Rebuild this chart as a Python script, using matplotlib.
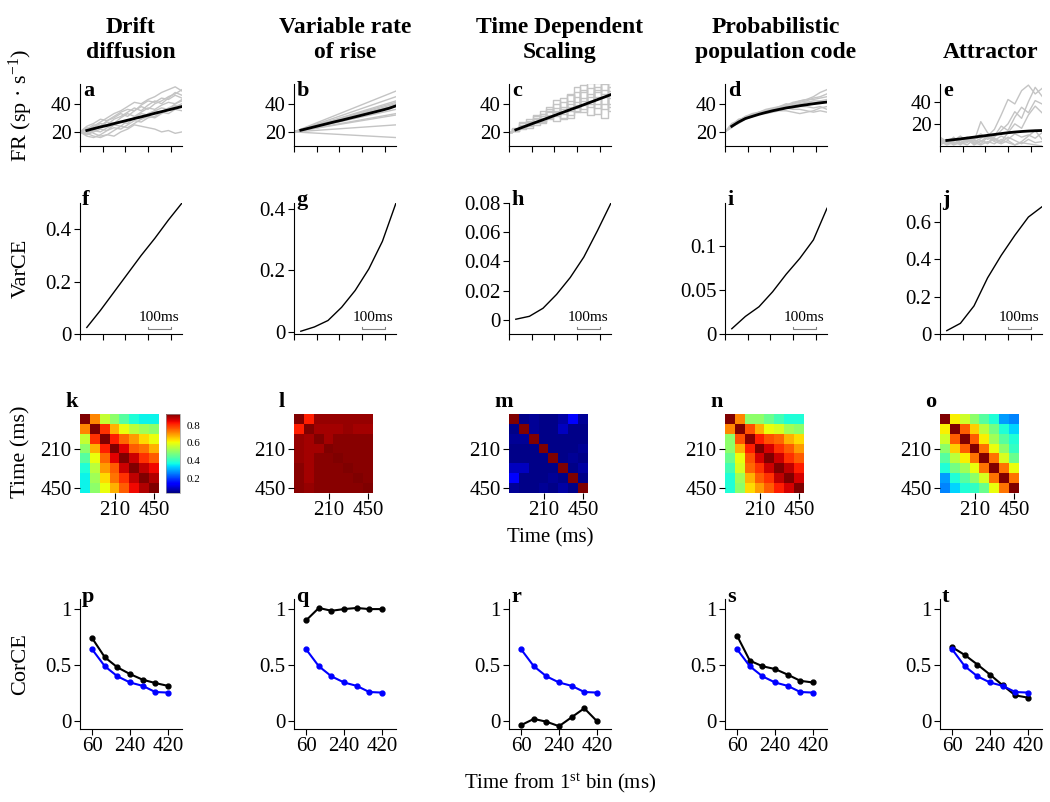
#%% Import modules
import numpy as np
import matplotlib
matplotlib.use("Agg")
import matplotlib.pyplot as plt
from matplotlib import transforms

#%% Fonts
plt.rcParams['font.family'] = ['Liberation Serif', 'DejaVu Serif']
plt.rcParams['mathtext.fontset'] = 'custom'
plt.rcParams['mathtext.rm'] = 'Liberation Serif'
plt.rcParams['mathtext.it'] = 'Liberation Serif:italic'
plt.rcParams['mathtext.bf'] = 'Liberation Serif:bold'

#%% Data
titles = ["Drift\ndiffusion", "Variable rate\nof rise", "Time Dependent\nScaling",
          "Probabilistic\npopulation code", "Attractor"]

# row 1: firing rate traces (t = 0..450 ms, 30 ms steps)
t_fr = [0, 30, 60, 90, 120, 150, 180, 210, 240, 270, 300, 330, 360, 390, 420, 450]
t_mean = t_fr[1:]

fr_a = [
    [20, 22, 25, 24, 28, 30, 33, 31, 35, 38, 36, 40, 42, 45, 47, 50],
    [20, 19, 23, 26, 25, 29, 31, 34, 37, 35, 39, 42, 40, 44, 48, 46],
    [20, 23, 21, 24, 27, 26, 30, 33, 31, 34, 37, 36, 39, 41, 40, 43],
    [20, 18, 20, 22, 21, 25, 27, 26, 30, 29, 33, 35, 34, 37, 39, 38],
    [20, 21, 24, 27, 30, 33, 35, 38, 41, 40, 43, 45, 48, 50, 52, 49],
    [20, 17, 16, 18, 21, 23, 22, 25, 28, 27, 30, 31, 34, 33, 36, 35],
    [20, 22, 19, 17, 18, 21, 24, 23, 26, 29, 31, 30, 33, 36, 38, 40],
    [20, 19, 17, 16, 18, 17, 20, 22, 25, 24, 23, 22, 20, 21, 19, 20],
    [20, 24, 26, 29, 28, 31, 34, 36, 35, 39, 42, 41, 44, 43, 46, 44],
    [20, 18, 21, 20, 23, 25, 24, 28, 30, 33, 32, 35, 37, 36, 40, 42],
]
mean_a = [21, 22.3, 23.5, 24.6, 25.9, 27.1, 28.3, 29.5, 30.7, 31.9, 33.2, 34.4, 35.6, 36.8, 38]

# variable rate of rise: straight lines from 20 sp/s at t=0
rise_end_b = [49, 45, 42, 41, 40, 39, 36, 33, 32, 25, 16]
mean_b = [21.2, 22.4, 23.6, 24.8, 26.0, 27.2, 28.3, 29.5, 30.7, 31.9, 33.1, 34.3, 35.5, 36.8, 38.5]

fr_c = [
    [20, 22, 26, 24, 30, 27, 35, 31, 38, 46, 34, 50, 42, 55, 47, 40],
    [20, 21, 24, 28, 25, 33, 29, 37, 30, 35, 48, 39, 55, 45, 36, 52],
    [20, 23, 22, 27, 31, 26, 34, 40, 33, 42, 37, 53, 38, 48, 55, 44],
    [20, 22, 25, 23, 28, 35, 31, 28, 44, 32, 45, 36, 47, 33, 50, 38],
    [20, 21, 23, 29, 26, 30, 38, 34, 36, 47, 41, 44, 32, 52, 40, 55],
    [20, 22, 27, 25, 32, 28, 32, 43, 35, 38, 52, 34, 45, 40, 30, 47],
    [20, 21, 24, 26, 27, 33, 30, 35, 41, 30, 39, 48, 51, 37, 45, 35],
    [20, 22, 23, 25, 29, 31, 36, 33, 29, 40, 35, 42, 40, 50, 54, 49],
]
mean_c = [21.5, 23.3, 25.1, 26.9, 28.6, 30.4, 32.2, 34.0, 35.8, 37.5, 39.3, 41.1, 42.9, 44.7, 46.5]

fr_d = [
    [20, 25, 28, 30, 32, 33, 35, 36, 37, 38, 40, 41, 42, 44, 45, 47],
    [20, 24, 27, 30, 31, 33, 34, 36, 37, 39, 40, 42, 43, 45, 48, 50],
    [20, 26, 28, 31, 32, 34, 35, 35, 36, 37, 36, 36, 35, 34, 35, 34],
    [20, 25, 29, 30, 31, 33, 35, 36, 36, 37, 37, 38, 38, 37, 38, 36],
    [20, 24, 26, 29, 31, 33, 34, 36, 38, 39, 41, 42, 43, 43, 44, 45],
    [20, 25, 28, 31, 33, 34, 35, 36, 37, 38, 38, 39, 41, 42, 42, 43],
    [20, 23, 27, 29, 31, 33, 33, 34, 35, 35, 34, 33, 34, 35, 37, 38],
    [20, 25, 28, 30, 32, 34, 36, 37, 38, 40, 39, 40, 41, 40, 42, 41],
]
mean_d = [24, 27, 29.5, 31, 32.5, 33.8, 35, 36, 37, 37.8, 38.6, 39.3, 40, 40.6, 41.2]

fr_e = [
    [5, 2, 8, 3, 6, 1, 4, 9, 15, 28, 42, 38, 50, 55, 47, 52],
    [3, 6, 2, 5, 8, 4, 22, 12, 6, 3, 8, 5, 2, 6, 3, 4],
    [8, 4, 1, 3, 7, 2, 5, 3, 8, 14, 20, 31, 25, 40, 53, 45],
    [2, 5, 7, 3, 1, 6, 2, 8, 4, 2, 5, 1, 3, 2, 1, 0],
    [6, 3, 5, 9, 4, 7, 11, 6, 9, 18, 14, 26, 35, 30, 41, 38],
    [4, 1, 3, 2, 5, 3, 1, 4, 2, 6, 3, 1, 4, 9, 14, 6],
    [1, 4, 6, 2, 3, 8, 5, 2, 7, 4, 12, 20, 16, 28, 36, 30],
    [7, 2, 4, 1, 6, 3, 7, 10, 5, 9, 6, 11, 8, 10, 7, 12],
]
mean_e = [5, 5.7, 6.4, 7.2, 8, 8.8, 9.6, 10.4, 11.2, 12, 12.6, 13.1, 13.5, 13.8, 14]

# row 2: VarCE
t_var = [30, 90, 150, 210, 270, 330, 390, 450]
var_f = [0.025, 0.09, 0.16, 0.23, 0.3, 0.365, 0.435, 0.5]
var_g = [0.002, 0.016, 0.037, 0.08, 0.135, 0.205, 0.295, 0.42]
var_h = [0.0005, 0.0025, 0.008, 0.0175, 0.029, 0.043, 0.061, 0.08]
var_i = [0.006, 0.02, 0.031, 0.048, 0.068, 0.086, 0.107, 0.143]
var_j = [0.018, 0.057, 0.15, 0.3, 0.42, 0.527, 0.625, 0.68]

# row 3: CorCE matrices (bins 30..450 ms)
cor_k = [
    [.93, .72, .56, .50, .44, .38, .36, .36],
    [.72, .93, .80, .68, .60, .55, .52, .50],
    [.56, .80, .93, .82, .75, .70, .64, .60],
    [.50, .68, .82, .93, .85, .76, .74, .68],
    [.44, .60, .75, .85, .93, .87, .80, .76],
    [.38, .55, .70, .76, .87, .93, .88, .84],
    [.36, .52, .64, .74, .80, .88, .93, .89],
    [.36, .50, .60, .68, .76, .84, .89, .93],
]
cor_l = [
    [.93, .82, .91, .91, .91, .91, .91, .91],
    [.82, .93, .90, .90, .90, .91, .90, .90],
    [.91, .90, .93, .90, .92, .92, .92, .92],
    [.91, .90, .90, .93, .92, .92, .92, .92],
    [.91, .90, .92, .92, .93, .92, .92, .92],
    [.92, .90, .92, .92, .92, .93, .92, .92],
    [.92, .90, .92, .92, .92, .92, .93, .92],
    [.92, .91, .92, .92, .92, .92, .92, .93],
]
cor_m = [
    [.93, .04, .05, .04, .04, .06, .14, .05],
    [.04, .93, .05, .04, .04, .08, .04, .04],
    [.05, .05, .93, .04, .04, .04, .04, .04],
    [.04, .04, .04, .93, .04, .04, .04, .05],
    [.04, .04, .04, .04, .93, .04, .05, .04],
    [.08, .08, .04, .04, .04, .93, .04, .06],
    [.14, .04, .04, .04, .05, .04, .93, .04],
    [.05, .04, .04, .05, .04, .06, .04, .93],
]
cor_n = [
    [.93, .72, .50, .50, .46, .42, .38, .38],
    [.72, .93, .77, .68, .60, .58, .52, .50],
    [.50, .77, .92, .82, .77, .75, .68, .64],
    [.50, .68, .82, .93, .86, .80, .76, .70],
    [.46, .60, .77, .86, .93, .87, .80, .76],
    [.42, .58, .75, .80, .87, .93, .88, .82],
    [.38, .52, .68, .76, .80, .88, .93, .86],
    [.38, .50, .64, .70, .76, .82, .86, .93],
]
cor_o = [
    [.93, .62, .57, .50, .44, .38, .28, .26],
    [.62, .93, .76, .65, .55, .47, .38, .33],
    [.57, .76, .93, .76, .62, .52, .44, .38],
    [.50, .65, .76, .93, .74, .60, .50, .40],
    [.44, .55, .62, .74, .93, .74, .58, .46],
    [.38, .47, .52, .60, .74, .93, .74, .60],
    [.28, .38, .44, .50, .58, .74, .93, .74],
    [.26, .33, .38, .40, .46, .60, .74, .93],
]

# row 4: CorCE vs time from 1st bin
t_lag = [60, 120, 180, 240, 300, 360, 420]
cor_data = [0.64, 0.49, 0.40, 0.345, 0.315, 0.26, 0.255]
cor_p = [0.74, 0.57, 0.48, 0.42, 0.37, 0.34, 0.315]
cor_q = [0.90, 1.01, 0.985, 1.0, 1.01, 1.0, 1.0]
cor_r = [-0.035, 0.02, -0.005, -0.045, 0.035, 0.115, 0.0]
cor_s = [0.76, 0.54, 0.49, 0.465, 0.415, 0.36, 0.345]
cor_t = [0.66, 0.59, 0.505, 0.415, 0.32, 0.23, 0.21]

#%% Layout helpers
W, H = 1050, 802
fig = plt.figure(figsize=(W / 100, H / 100), dpi=100)
lefts = [80, 294, 509, 725, 940]

def px_axes(left, top, w, h):
    return fig.add_axes([left / W, 1 - (top + h) / H, w / W, h / H])

def style(ax):
    for s in ['top', 'right']:
        ax.spines[s].set_visible(False)
    for s in ['left', 'bottom']:
        ax.spines[s].set_linewidth(0.8)
    ax.tick_params(direction='out', length=4, width=0.8, labelsize=15, pad=2)

def letter(x, y, s):
    fig.text(x / W, 1 - y / H, s, fontsize=16, fontweight='bold', ha='left', va='center')

def ylab(y, s):
    fig.text(21 / W, 1 - y / H, s, fontsize=16, rotation=90, ha='center', va='center')

gray = '#c4c4c4'

#%% Column titles
for i, ttl in enumerate(titles):
    fig.text((lefts[i] + 51) / W, 1 - 63 / H, ttl, fontsize=17, fontweight='bold',
             ha='center', va='bottom', linespacing=1.25)

#%% Row 1: firing rates
fr_sets = [fr_a, None, fr_c, fr_d, fr_e]
means = [mean_a, mean_b, mean_c, mean_d, mean_e]
for i in range(5):
    ax = px_axes(lefts[i], 84, 102, 62)
    style(ax)
    if i == 1:
        for v in rise_end_b:
            ax.plot([0, 450], [20, v], color=gray, lw=1)
    else:
        for tr in fr_sets[i]:
            ax.plot(t_fr, tr, color=gray, lw=1, drawstyle='steps-mid' if i == 2 else 'default')
    ax.plot(t_mean, means[i], color='k', lw=2)
    ax.set_xlim(0, 450)
    ax.set_xticks([0, 100, 200, 300, 400])
    ax.set_xticklabels([])
    ax.set_ylim((0, 56) if i == 4 else (10, 54))
    ax.set_yticks([20, 40])
    letter(lefts[i] + 3, 91, "abcde"[i])

ylab(106, "FR (sp · s$^{-1}$)")

#%% Row 2: VarCE
var_sets = [var_f, var_g, var_h, var_i, var_j]
var_lims = [(0, 0.5), (-0.007, 0.42), (-0.0096, 0.08), (0, 0.149), (0, 0.7)]
var_ticks = [[0, 0.2, 0.4], [0, 0.2, 0.4], [0, 0.02, 0.04, 0.06, 0.08],
             [0, 0.05, 0.1], [0, 0.2, 0.4, 0.6]]
for i in range(5):
    ax = px_axes(lefts[i], 203, 102, 131)
    style(ax)
    ax.plot(t_var, var_sets[i], color='k', lw=1)
    ax.set_xlim(0, 450)
    ax.set_xticks([0, 100, 200, 300, 400])
    ax.set_xticklabels([])
    ax.set_ylim(*var_lims[i])
    ax.set_yticks(var_ticks[i])
    ax.set_yticklabels([('%g' % v) for v in var_ticks[i]])
    # 100 ms scale bar
    tr = transforms.blended_transform_factory(ax.transData, ax.transAxes)
    ax.plot([300, 300, 400, 400], [0.057, 0.036, 0.036, 0.057], color='#808080',
            lw=0.8, transform=tr, clip_on=False)
    ax.text(350, 0.075, "100ms", transform=tr, ha='center', va='bottom', fontsize=11)
    letter(lefts[i] + 2, 200, "fghij"[i])

ylab(268, "VarCE")

#%% Row 3: CorCE matrices
mats = [cor_k, cor_l, cor_m, cor_n, cor_o]
for i in range(5):
    ax = px_axes(lefts[i], 414, 79, 79)
    im = ax.imshow(np.array(mats[i]), cmap='jet', vmin=0.03, vmax=0.93,
                   interpolation='nearest', aspect='auto')
    for s in ax.spines.values():
        s.set_visible(False)
    ax.tick_params(direction='out', length=4, width=0.8, labelsize=15, pad=2)
    ax.set_xticks([3, 7])
    ax.set_xticklabels(["210", "450"])
    ax.set_yticks([3, 7])
    ax.set_yticklabels(["210", "450"])
    letter(lefts[i] - 15, 402, "klmno"[i])
    if i == 0:
        cax = px_axes(166, 414, 14, 79)
        cb = fig.colorbar(im, cax=cax)
        cb.set_ticks([0.2, 0.4, 0.6, 0.8])
        cb.ax.tick_params(labelsize=8, length=0, pad=5)
        cb.outline.set_linewidth(0.5)
        cb.outline.set_edgecolor('#999999')

ylab(452, "Time (ms)")
fig.text(550 / W, 1 - 538 / H, "Time (ms)", fontsize=15, ha='center', va='center')

#%% Row 4: CorCE
cor_sets = [cor_p, cor_q, cor_r, cor_s, cor_t]
for i in range(5):
    ax = px_axes(lefts[i], 599, 102, 130)
    style(ax)
    ax.plot(t_lag, cor_sets[i], color='k', lw=1.5, marker='o', ms=3.5)
    ax.plot(t_lag, cor_data, color='#0000ff', lw=1.5, marker='o', ms=3.5)
    ax.set_xlim(2, 487)
    ax.set_ylim(-0.07, 1.09)
    ax.set_xticks([60, 240, 420])
    ax.set_yticks([0, 0.5, 1])
    ax.set_yticklabels(["0", "0.5", "1"])
    letter(lefts[i] + 2, 597, "pqrst"[i])

ylab(664, "CorCE")
fig.text(560 / W, 1 - 783 / H, "Time from 1$^{\\rm st}$ bin (ms)", fontsize=15,
         ha='center', va='center')

fig.savefig("out.png", dpi=100)
